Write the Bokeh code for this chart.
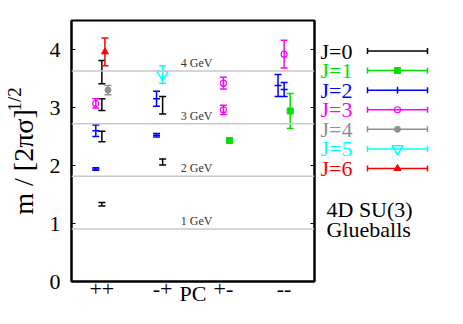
from bokeh.plotting import figure
from bokeh.models import (Range1d, FixedTicker, Whisker, TeeHead, ColumnDataSource,
                          Span, Label, LinearAxis, CustomJSTickFormatter)
from bokeh.layouts import row
from bokeh.core.properties import value
from bokeh.embed import file_html
from bokeh.resources import INLINE
import math

SERIF = "Liberation Serif"

# ---------------- data ----------------
pc_ticks = [1, 2, 3, 4]
pc_labels = ["++", "-+", "+-", "--"]
y_ticks = [0, 1, 2, 3, 4]
gev_levels = [1, 2, 3, 4]
gev_unit = 0.907  # 1 GeV in units of [2 pi sigma]^(1/2)

j_names = ["J=0", "J=1", "J=2", "J=3", "J=4", "J=5", "J=6"]
j_colors = ["#000000", "#00e000", "#0000ff", "#ff00ff", "#909090", "#00ffff", "#ff0000"]

# x: 1 = ++, 2 = -+, 3 = +-, 4 = -- (small offsets separate the J values)
j0_x = [1.0, 1.0, 1.0, 1.0, 2.0, 2.0]
j0_m = [1.33, 2.50, 3.05, 3.61, 2.06, 3.04]
j0_e = [0.03, 0.09, 0.10, 0.20, 0.05, 0.15]

j1_x = [3.1, 4.1]
j1_m = [2.43, 2.94]
j1_e = [0.03, 0.30]

j2_x = [0.9, 0.9, 1.9, 1.9, 3.9, 4.0]
j2_m = [1.94, 2.60, 2.52, 3.15, 3.38, 3.31]
j2_e = [0.02, 0.10, 0.03, 0.13, 0.19, 0.12]

j3_x = [0.9, 3.0, 3.0, 4.0]
j3_m = [3.07, 2.96, 3.42, 3.92]
j3_e = [0.08, 0.08, 0.10, 0.24]

j4_x = [1.1]
j4_m = [3.30]
j4_e = [0.08]

j5_x = [2.0]
j5_m = [3.57]
j5_e = [0.15]

j6_x = [1.05]
j6_m = [3.96]
j6_e = [0.24]

series = [
    (j0_x, j0_m, j0_e, None, {}),
    (j1_x, j1_m, j1_e, "square", dict(size=6)),
    (j2_x, j2_m, j2_e, "dash", dict(size=7, line_width=1.5)),
    (j3_x, j3_m, j3_e, "circle", dict(size=6, fill_color=None, line_width=1.2)),
    (j4_x, j4_m, j4_e, "circle", dict(size=6)),
    (j5_x, j5_m, j5_e, "inverted_triangle", dict(size=11, fill_color=None, line_width=1.5)),
    (j6_x, j6_m, j6_e, "triangle", dict(size=7)),
]

# ---------------- y-axis title panel ----------------
ylab = figure(width=46, height=308, x_range=Range1d(8, 54), y_range=Range1d(316, 8),
              output_backend="svg", toolbar_location=None, min_border=0,
              x_axis_location=None, y_axis_location=None)
ylab.xgrid.visible = False
ylab.ygrid.visible = False
ylab.outline_line_color = None
ylab.text(x=[31], y=[175], text=["m / [2πσ]"], angle=math.pi / 2, text_color="black",
          text_font=value(SERIF), text_font_size="28px", text_align="center",
          text_baseline="middle")
ylab.text(x=[21.5], y=[101], text=["1/2"], angle=math.pi / 2, text_color="black",
          text_font=value(SERIF), text_font_size="19px", text_align="center",
          text_baseline="middle")

# ---------------- main plot ----------------
p = figure(width=272, height=308, x_range=Range1d(0.5, 4.5), y_range=Range1d(0, 4.5),
           output_backend="svg", toolbar_location=None,
           min_border_left=22, min_border_right=4, min_border_top=20, min_border_bottom=27)
p.xgrid.visible = False
p.ygrid.visible = False
p.outline_line_color = "black"
p.outline_line_width = 2

xa = p.below[0]
xa.ticker = FixedTicker(ticks=pc_ticks)
xa.major_label_overrides = {t: l for t, l in zip(pc_ticks, pc_labels)}
xa.major_tick_in = 0
xa.major_tick_out = 0
xa.minor_tick_in = 0
xa.minor_tick_out = 0
xa.major_label_standoff = 0
xa.axis_line_width = 2
xa.major_label_text_font = SERIF
xa.major_label_text_font_size = "22px"
xa.major_label_text_color = "black"
xa.axis_label = "PC"
xa.axis_label_text_font = SERIF
xa.axis_label_text_font_size = "22px"
xa.axis_label_text_font_style = "normal"
xa.axis_label_text_color = "black"
xa.axis_label_standoff = -18

ya = p.left[0]
ya.ticker = FixedTicker(ticks=y_ticks)
ya.major_tick_in = 4
ya.major_tick_out = 0
ya.minor_tick_in = 0
ya.minor_tick_out = 0
ya.major_label_standoff = 11
ya.axis_line_width = 2
ya.major_label_text_font = SERIF
ya.major_label_text_font_size = "22px"
ya.major_label_text_color = "black"

ry = LinearAxis(ticker=FixedTicker(ticks=y_ticks), formatter=CustomJSTickFormatter(code="return ''"),
                major_tick_in=4, major_tick_out=0, minor_tick_in=0, minor_tick_out=0,
                major_label_standoff=0, axis_line_width=2)
p.add_layout(ry, "right")

# GeV reference lines
for g in gev_levels:
    p.add_layout(Span(location=g * gev_unit, dimension="width", line_color="#c8c8c8", line_width=1.5))
    p.add_layout(Label(x=2.3, y=g * gev_unit, y_offset=1, text=f"{g} GeV", text_font=SERIF,
                       text_font_size="12px", text_color="#333333", text_baseline="bottom",
                       text_align="left"))

# data with error bars
for (xs, ms, es, marker, kw), col in zip(series, j_colors):
    src = ColumnDataSource(dict(x=xs, m=ms, lo=[m - e for m, e in zip(ms, es)],
                                hi=[m + e for m, e in zip(ms, es)]))
    p.add_layout(Whisker(source=src, base="x", lower="lo", upper="hi", dimension="height",
                         line_color=col, line_width=1.5, level="glyph",
                         upper_head=TeeHead(size=7, line_color=col, line_width=1.5),
                         lower_head=TeeHead(size=7, line_color=col, line_width=1.5)))
    if marker:
        opts = dict(line_color=col, fill_color=col)
        opts.update(kw)
        p.scatter("x", "m", source=src, marker=marker, **opts)

# ---------------- legend panel ----------------
leg = figure(width=129, height=308, x_range=Range1d(326, 455), y_range=Range1d(316, 8),
             output_backend="svg", toolbar_location=None, min_border=0,
             x_axis_location=None, y_axis_location=None)
leg.xgrid.visible = False
leg.ygrid.visible = False
leg.outline_line_color = None

leg_y = [44 + 23.1 * i for i in range(len(j_names))]
leg.text(x=[328] * len(j_names), y=leg_y, text=j_names, text_color=j_colors,
         text_font=value(SERIF), text_font_size="22px", text_baseline="middle")
for i, ((xs, ms, es, marker, kw), col) in enumerate(zip(series, j_colors)):
    s = ColumnDataSource(dict(b=[leg_y[i]], lo=[375], hi=[435], xm=[405]))
    leg.add_layout(Whisker(source=s, base="b", lower="lo", upper="hi", dimension="width",
                           line_color=col, line_width=1.5, level="glyph",
                           upper_head=TeeHead(size=6, line_color=col, line_width=1.5),
                           lower_head=TeeHead(size=6, line_color=col, line_width=1.5)))
    if marker:
        opts = dict(line_color=col, fill_color=col)
        opts.update(kw)
        if marker == "dash":
            opts["angle"] = math.pi / 2
        leg.scatter("xm", "b", source=s, marker=marker, **opts)

leg.text(x=[334, 334], y=[231, 255], text=["4D SU(3)", "Glueballs"], text_color="black",
         text_font=value(SERIF), text_font_size="22px", text_baseline="middle")

layout = row(ylab, p, leg)
open("out.html", "w").write(file_html(layout, INLINE))
